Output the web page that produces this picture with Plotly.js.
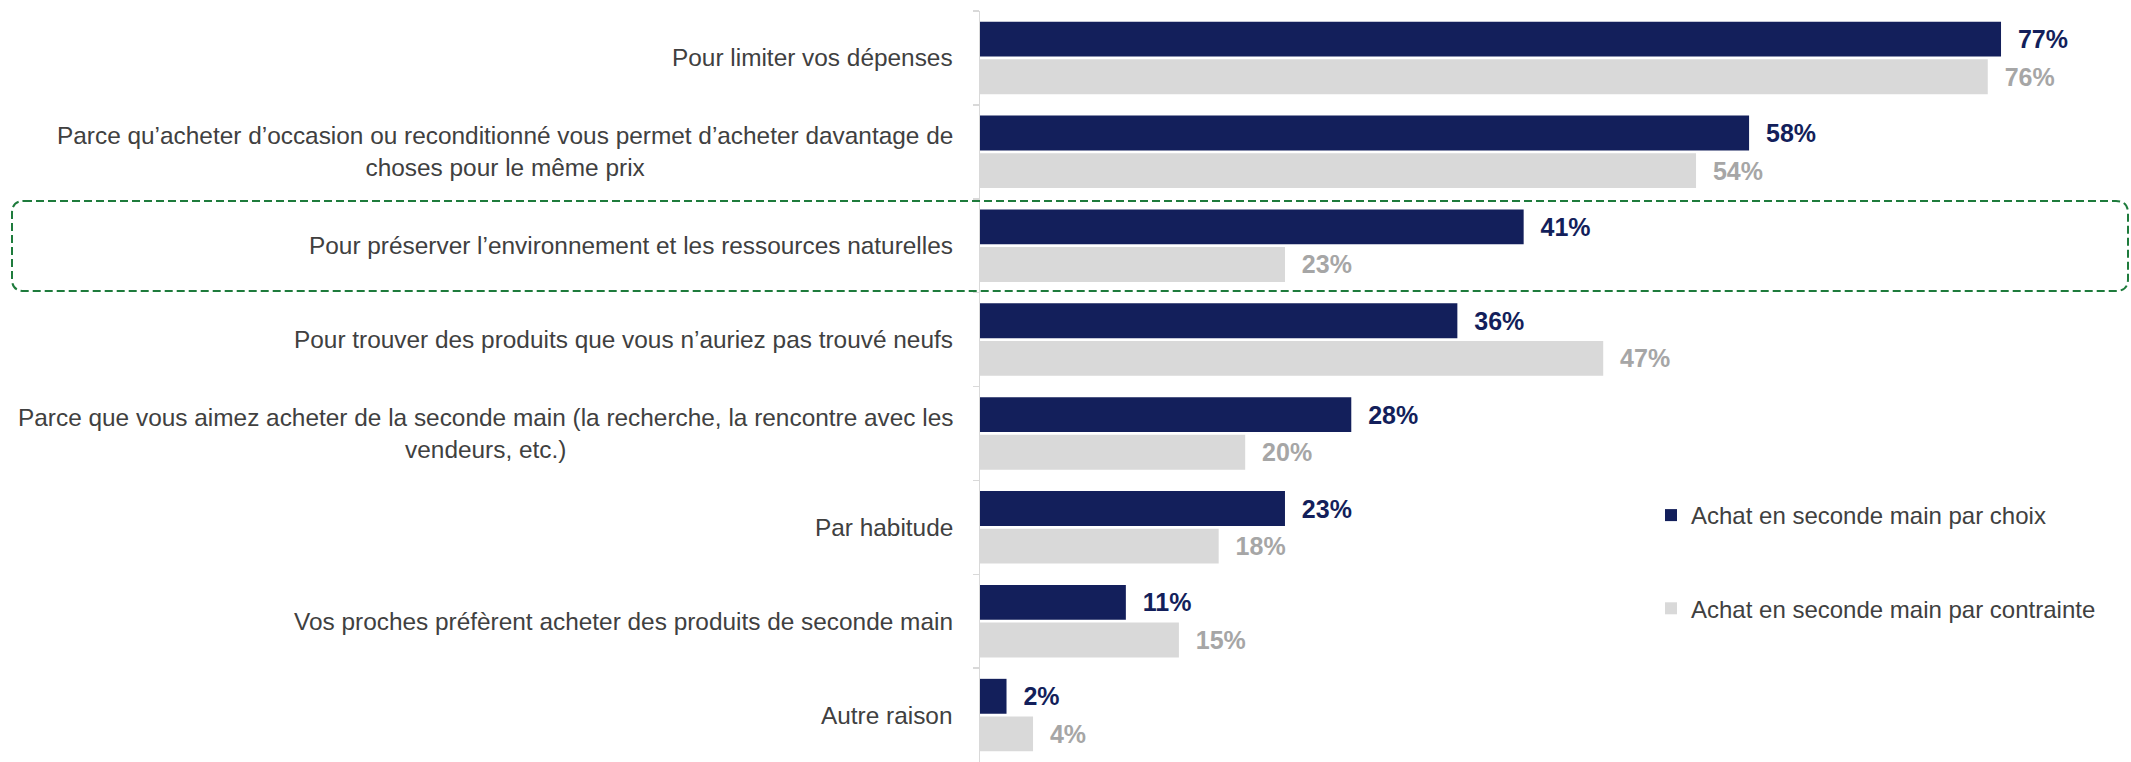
<!DOCTYPE html>
<html>
<head>
<meta charset="utf-8">
<script src="https://cdn.plot.ly/plotly-3.0.1.min.js"></script>
<style>
  html, body { margin: 0; padding: 0; background: #ffffff; }
  #chart { width: 2131px; height: 762px; }
</style>
</head>
<body>
<div id="chart"></div>
<script>
// ---- data ----
const categories = [
  "Pour limiter vos dépenses",
  "Parce qu’acheter d’occasion ou reconditionné vous permet d’acheter davantage de choses pour le même prix",
  "Pour préserver l’environnement et les ressources naturelles",
  "Pour trouver des produits que vous n’auriez pas trouvé neufs",
  "Parce que vous aimez acheter de la seconde main (la recherche, la rencontre avec les vendeurs, etc.)",
  "Par habitude",
  "Vos proches préfèrent acheter des produits de seconde main",
  "Autre raison"
];
const categoryLabels = [
  "Pour limiter vos dépenses",
  "Parce qu’acheter d’occasion ou reconditionné vous permet d’acheter davantage de<br>choses pour le même prix",
  "Pour préserver l’environnement et les ressources naturelles",
  "Pour trouver des produits que vous n’auriez pas trouvé neufs",
  "Parce que vous aimez acheter de la seconde main (la recherche, la rencontre avec les<br>vendeurs, etc.)",
  "Par habitude",
  "Vos proches préfèrent acheter des produits de seconde main",
  "Autre raison"
];
const seriesNames = ["Achat en seconde main par choix", "Achat en seconde main par contrainte"];
const choixValues = [77, 58, 41, 36, 28, 23, 11, 2];
const contrainteValues = [76, 54, 23, 47, 20, 18, 15, 4];

// ---- layout geometry ----
const W = 2131, H = 762;
const M = { l: 980, r: 10, t: 11, b: 0 };
const plotW = W - M.l - M.r, plotH = H - M.t - M.b;
const pxPerUnit = 13.26;
const xMax = plotW / pxPerUnit;
const px2x = px => (px - M.l) / plotW;
const px2y = py => 1 - (py - M.t) / plotH;

const NAVY = "#131F5B", LIGHT = "#D9D9D9", LIGHT_TXT = "#A6A6A6", TXT = "#404040";
const FONT = "Liberation Sans, Arial, sans-serif";

const traces = [
  {
    type: "bar", orientation: "h", name: seriesNames[0],
    y: categories, x: choixValues,
    marker: { color: NAVY },
    texttemplate: "\u00a0\u00a0%{x}%", textposition: "outside",
    textfont: { family: FONT, size: 25, color: NAVY, weight: "bold" },
    constraintext: "none", cliponaxis: false, hoverinfo: "skip",
    legendgroup: "a"
  },
  {
    type: "bar", orientation: "h", name: seriesNames[1],
    y: categories, x: contrainteValues,
    marker: { color: LIGHT },
    texttemplate: "\u00a0\u00a0%{x}%", textposition: "outside",
    textfont: { family: FONT, size: 25, color: LIGHT_TXT, weight: "bold" },
    constraintext: "none", cliponaxis: false, hoverinfo: "skip",
    legendgroup: "b"
  }
];

const annotations = categories.map((c, i) => ({
  xref: "paper", yref: "y", x: 0, y: c,
  xanchor: "right", yanchor: "middle", xshift: -25,
  align: "center", showarrow: false,
  text: categoryLabels[i],
  font: { family: FONT, size: 24.4, color: TXT }
}));

// rounded dashed highlight box (pixel geometry converted to paper coords)
const hl = { x0: 12, x1: 2128, y0: 201, y1: 291, r: 12 };
const X0 = px2x(hl.x0), X1 = px2x(hl.x1), Y0 = px2y(hl.y0), Y1 = px2y(hl.y1);
const rx = hl.r / plotW, ry = hl.r / plotH;
const boxPath = `M ${X0 + rx},${Y0} L ${X1 - rx},${Y0} Q ${X1},${Y0} ${X1},${Y0 - ry} ` +
  `L ${X1},${Y1 + ry} Q ${X1},${Y1} ${X1 - rx},${Y1} L ${X0 + rx},${Y1} Q ${X0},${Y1} ${X0},${Y1 + ry} ` +
  `L ${X0},${Y0 - ry} Q ${X0},${Y0} ${X0 + rx},${Y0} Z`;

const layout = {
  width: W, height: H,
  margin: M,
  paper_bgcolor: "#ffffff", plot_bgcolor: "#ffffff",
  barmode: "group", bargap: 0.2, bargroupgap: 0.07,
  showlegend: true,
  legend: {
    x: px2x(1651), y: px2y(493), xanchor: "left", yanchor: "top",
    traceorder: "grouped", tracegroupgap: 59,
    font: { family: FONT, size: 24, color: TXT },
    bgcolor: "rgba(0,0,0,0)"
  },
  xaxis: {
    range: [0, xMax], visible: false, fixedrange: true
  },
  yaxis: {
    type: "category", autorange: "reversed",
    showticklabels: false, showgrid: false, zeroline: false,
    showline: true, linecolor: LIGHT, linewidth: 1.5,
    ticks: "outside", tickson: "boundaries", ticklen: 6, tickcolor: LIGHT, tickwidth: 1.5,
    fixedrange: true
  },
  annotations: annotations,
  shapes: [{
    type: "path", xref: "paper", yref: "paper", path: boxPath,
    line: { color: "#1E7B3C", width: 2, dash: "8px,4px" },
    fillcolor: "rgba(0,0,0,0)"
  }],
  font: { family: FONT }
};

Plotly.newPlot("chart", traces, layout, { displayModeBar: false, staticPlot: true });
</script>
</body>
</html>
